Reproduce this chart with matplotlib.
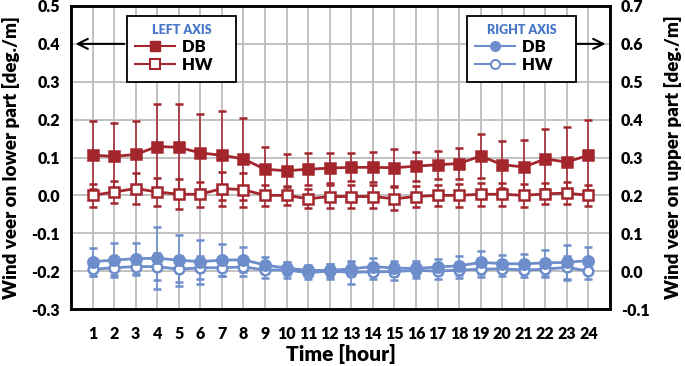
import numpy as np
import matplotlib.pyplot as plt
from matplotlib.lines import Line2D

plt.rcParams['font.family'] = ['Lato', 'DejaVu Sans']
plt.rcParams['font.weight'] = 'heavy'
plt.rcParams['axes.labelweight'] = 'heavy'

RED = '#A3262D'
BLUE = '#6D8DCB'
GRID = '#BDBDBD'

hours = np.arange(1, 25)

# lower part (left axis) - DB / HW means and half error bars
db_low = [0.106, 0.103, 0.108, 0.129, 0.127, 0.112, 0.106, 0.096, 0.069, 0.065, 0.069, 0.072,
          0.074, 0.074, 0.073, 0.077, 0.081, 0.084, 0.104, 0.081, 0.075, 0.096, 0.088, 0.106]
db_low_err = [0.090, 0.089, 0.088, 0.111, 0.113, 0.102, 0.118, 0.108, 0.060, 0.043, 0.042, 0.039,
              0.037, 0.040, 0.049, 0.038, 0.037, 0.042, 0.059, 0.062, 0.072, 0.080, 0.092, 0.092]
hw_low = [0.000, 0.009, 0.018, 0.009, 0.003, 0.003, 0.018, 0.015, 0.000, 0.000, -0.009, -0.003,
          -0.003, -0.003, -0.009, -0.003, 0.000, 0.000, 0.003, 0.003, 0.000, 0.004, 0.006, 0.000]
hw_low_err = [0.031, 0.030, 0.042, 0.038, 0.040, 0.033, 0.045, 0.045, 0.028, 0.025, 0.025, 0.030,
              0.030, 0.030, 0.030, 0.028, 0.028, 0.030, 0.030, 0.030, 0.030, 0.028, 0.028, 0.028]

# upper part (right axis)
db_up = [0.025, 0.029, 0.033, 0.034, 0.029, 0.025, 0.029, 0.030, 0.016, 0.008, 0.002, 0.002,
         0.006, 0.012, 0.008, 0.007, 0.011, 0.014, 0.023, 0.020, 0.019, 0.022, 0.023, 0.028]
db_up_err = [0.037, 0.045, 0.042, 0.082, 0.067, 0.058, 0.042, 0.033, 0.020, 0.017, 0.015, 0.017,
             0.018, 0.022, 0.020, 0.020, 0.020, 0.025, 0.030, 0.022, 0.025, 0.035, 0.047, 0.036]
hw_up = [0.005, 0.009, 0.012, 0.012, 0.005, 0.009, 0.009, 0.011, 0.003, 0.003, -0.004, 0.000,
         -0.003, -0.002, -0.001, 0.002, 0.000, 0.003, 0.005, 0.006, 0.003, 0.005, 0.010, 0.000]
hw_up_err = [0.018, 0.020, 0.020, 0.035, 0.035, 0.030, 0.022, 0.025, 0.020, 0.020, 0.018, 0.020,
             0.030, 0.020, 0.022, 0.020, 0.020, 0.022, 0.020, 0.020, 0.018, 0.020, 0.030, 0.020]

fig = plt.figure(figsize=(6.85, 3.66), dpi=100)
ax = fig.add_axes([71/685, 1-309/366, (610-71)/685, (309-6)/366])
ax2 = ax.twinx()

ax.set_xlim(0, 25)
ax.set_ylim(-0.3, 0.5)
ax2.set_ylim(-0.1, 0.7)
ax.set_xticks(hours)
ax.set_yticks(np.arange(-0.3, 0.51, 0.1))
ax2.set_yticks(np.arange(-0.1, 0.71, 0.1))
ax.set_yticklabels([f'{v:.1f}' for v in np.arange(-0.3, 0.51, 0.1)])
ax2.set_yticklabels([f'{v:.1f}' for v in np.arange(-0.1, 0.71, 0.1)])
ax.grid(True, color=GRID, lw=1.3)
ax.set_axisbelow(True)

for a in (ax, ax2):
    a.tick_params(length=0, labelsize=11.5, pad=8)
    for s in a.spines.values():
        s.set_linewidth(1.8)
ax.tick_params(axis='x', pad=12)

ebkw = dict(elinewidth=1.1, capsize=3, capthick=1.1, lw=2, markeredgewidth=1.8)
ax.errorbar(hours, db_low, yerr=db_low_err, color=RED, marker='s', ms=7.5,
            markerfacecolor=RED, **ebkw)
ax.errorbar(hours, hw_low, yerr=hw_low_err, color=RED, marker='s', ms=7,
            markerfacecolor='white', **ebkw)
ax2.errorbar(hours, hw_up, yerr=hw_up_err, color=BLUE, marker='o', ms=7,
             markerfacecolor='white', **ebkw)
ax2.errorbar(hours, db_up, yerr=db_up_err, color=BLUE, marker='o', ms=7.5,
             markerfacecolor=BLUE, **ebkw)

ax.set_xlabel('Time [hour]', fontsize=15, labelpad=2)
ax.set_ylabel('Wind veer on lower part [deg./m]', fontsize=13.5, labelpad=8)
ax2.set_ylabel('Wind veer on upper part [deg./m]', fontsize=13.5, rotation=90, labelpad=10)

# legends
red_h = [Line2D([], [], color=RED, marker='s', ms=7, lw=1.5, markerfacecolor=RED),
         Line2D([], [], color=RED, marker='s', ms=6.5, lw=1.5, markerfacecolor='white', markeredgewidth=1.5)]
blue_h = [Line2D([], [], color=BLUE, marker='o', ms=7, lw=1.5, markerfacecolor=BLUE),
          Line2D([], [], color=BLUE, marker='o', ms=6.5, lw=1.5, markerfacecolor='white', markeredgewidth=1.5)]

def make_legend(a, handles, title, x0):
    leg = a.legend(handles, ['DB    ', 'HW    '], title=title, loc='upper left',
                   bbox_to_anchor=(x0/685, 1-16/366), bbox_transform=fig.transFigure,
                   borderaxespad=0, fancybox=False, framealpha=1, edgecolor='black',
                   prop={'size': 12, 'weight': 'heavy'}, handlelength=2.4,
                   handletextpad=0.4, labelspacing=0.15, borderpad=0.5)
    leg.get_frame().set_linewidth(1.3)
    leg._legend_box.align = 'center'
    leg.get_title().set_color('#4A78C8')
    leg.get_title().set_fontsize(9)
    leg.get_title().set_fontweight('heavy')
    return leg

leg1 = make_legend(ax2, red_h, 'LEFT AXIS', 127)
ax2.add_artist(leg1)
make_legend(ax2, blue_h, 'RIGHT AXIS', 467)

arrow = dict(arrowstyle='->', color='black', lw=1.5, mutation_scale=18)
ax.annotate('', xy=(0.08, 0.4), xytext=((127-71)/21.56, 0.4), arrowprops=arrow)
ax.annotate('', xy=(24.92, 0.4), xytext=((553-71)/21.56, 0.4), arrowprops=arrow)

fig.savefig('out.png', dpi=100)
